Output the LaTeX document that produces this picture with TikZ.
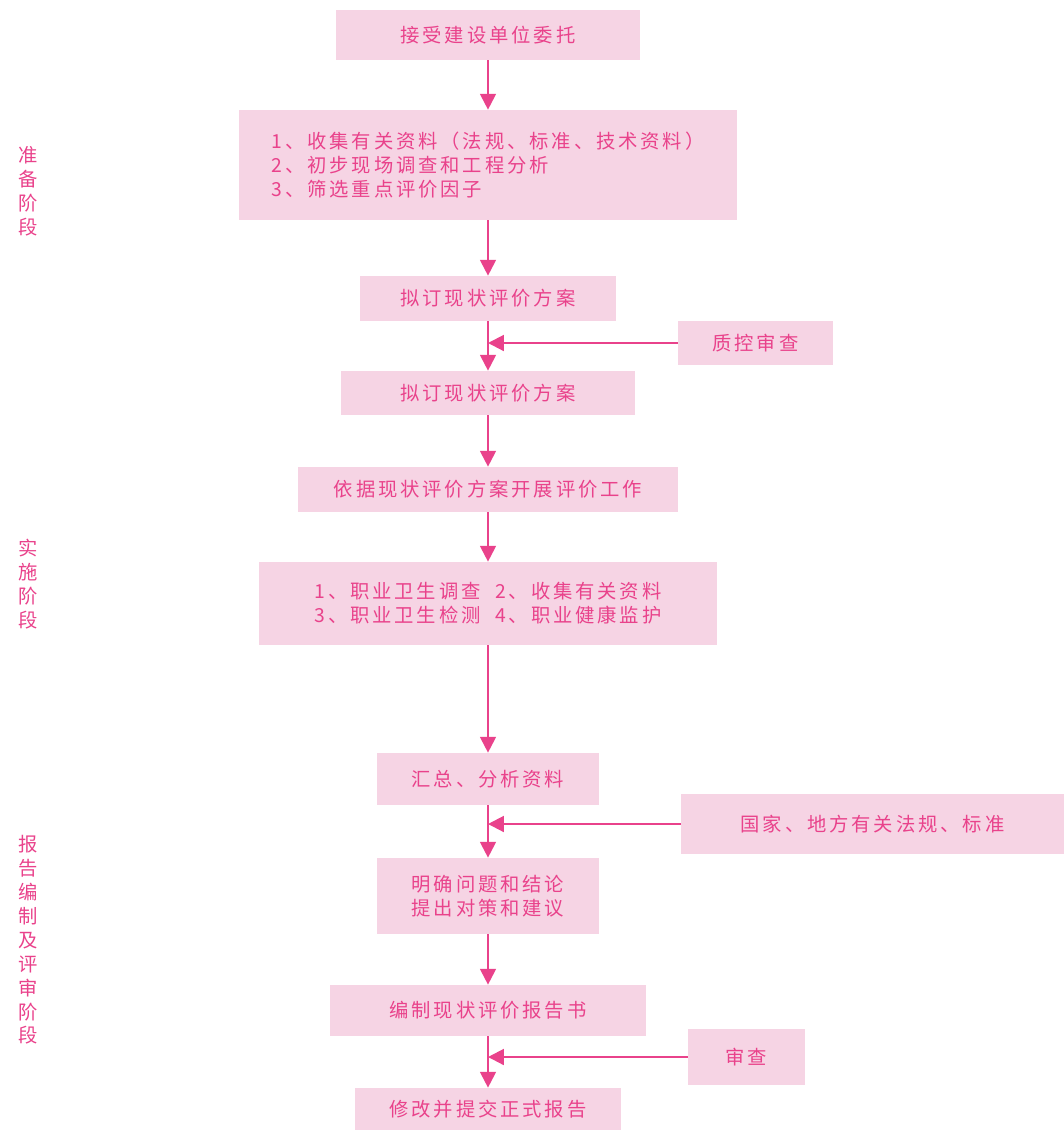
\documentclass[tikz,border=0pt]{standalone}
\usepackage{fontspec}
\newfontfamily\cjk[LetterSpace=15]{Noto Sans CJK SC}
\usetikzlibrary{arrows.meta}
\definecolor{boxpink}{RGB}{246,212,228}
\definecolor{linepink}{RGB}{233,66,139}
\begin{document}
\begin{tikzpicture}[x=0.02cm,y=-0.02cm,
  box/.style={fill=boxpink,text=linepink,inner sep=0pt,font=\cjk\fontsize{11}{13.6}\selectfont},
  arr/.style={draw=linepink,line width=1.2pt,-{Triangle[length=9pt,width=9pt]}},
  side/.style={text=linepink,align=center,inner sep=0pt,font=\cjk\fontsize{11}{13.6}\selectfont}]

  \useasboundingbox (0,0) rectangle (1064,1130);

  % main column
  \node[box,minimum width=6.08cm,minimum height=1.0cm] (top) at (488,35) {接受建设单位委托};
  \node[box,minimum width=9.96cm,minimum height=2.2cm,align=left] (collect) at (488,165)
    {1、收集有关资料（法规、标准、技术资料）\\2、初步现场调查和工程分析\\3、筛选重点评价因子};
  \node[box,minimum width=5.14cm,minimum height=0.9cm] (plan1) at (488,298.5) {拟订现状评价方案};
  \node[box,minimum width=5.88cm,minimum height=0.88cm] (plan2) at (488,393) {拟订现状评价方案};
  \node[box,minimum width=7.62cm,minimum height=0.9cm] (work) at (488,489.5) {依据现状评价方案开展评价工作};
  \node[box,minimum width=9.18cm,minimum height=1.66cm,align=center] (survey) at (488,603.5)
    {1、职业卫生调查\ \ 2、收集有关资料\\3、职业卫生检测\ \ 4、职业健康监护};
  \node[box,minimum width=4.46cm,minimum height=1.04cm] (sum) at (488,779) {汇总、分析资料};
  \node[box,minimum width=4.46cm,minimum height=1.52cm,align=center] (concl) at (488,896)
    {明确问题和结论\\提出对策和建议};
  \node[box,minimum width=6.32cm,minimum height=1.02cm] (report) at (488,1010.5) {编制现状评价报告书};
  \node[box,minimum width=5.32cm,minimum height=0.84cm] (final) at (488,1109) {修改并提交正式报告};

  % side inputs
  \node[box,minimum width=3.1cm,minimum height=0.88cm] (qc) at (755.5,343) {质控审查};
  \node[box,minimum width=7.66cm,minimum height=1.2cm] (law) at (872.5,824) {国家、地方有关法规、标准};
  \node[box,minimum width=2.34cm,minimum height=1.12cm] (review) at (746.5,1057) {审查};

  % stages
  \node[side] (prep) at (28,191) {准\\备\\阶\\段};
  \node[side] (impl) at (28,584) {实\\施\\阶\\段};
  \node[side] (rep) at (28,940) {报\\告\\编\\制\\及\\评\\审\\阶\\段};

  \foreach \a/\b in {top/collect,collect/plan1,plan1/plan2,plan2/work,work/survey,
                     survey/sum,sum/concl,concl/report,report/final}
  {
    \draw[arr] (\a.south) -- (\a.south |- \b.north);
  }
  \foreach \s/\t in {qc/plan1,law/sum,review/report}
  {
    \draw[arr] (\s.west) -- (\s.west -| \t.south);
  }

\end{tikzpicture}
\end{document}
